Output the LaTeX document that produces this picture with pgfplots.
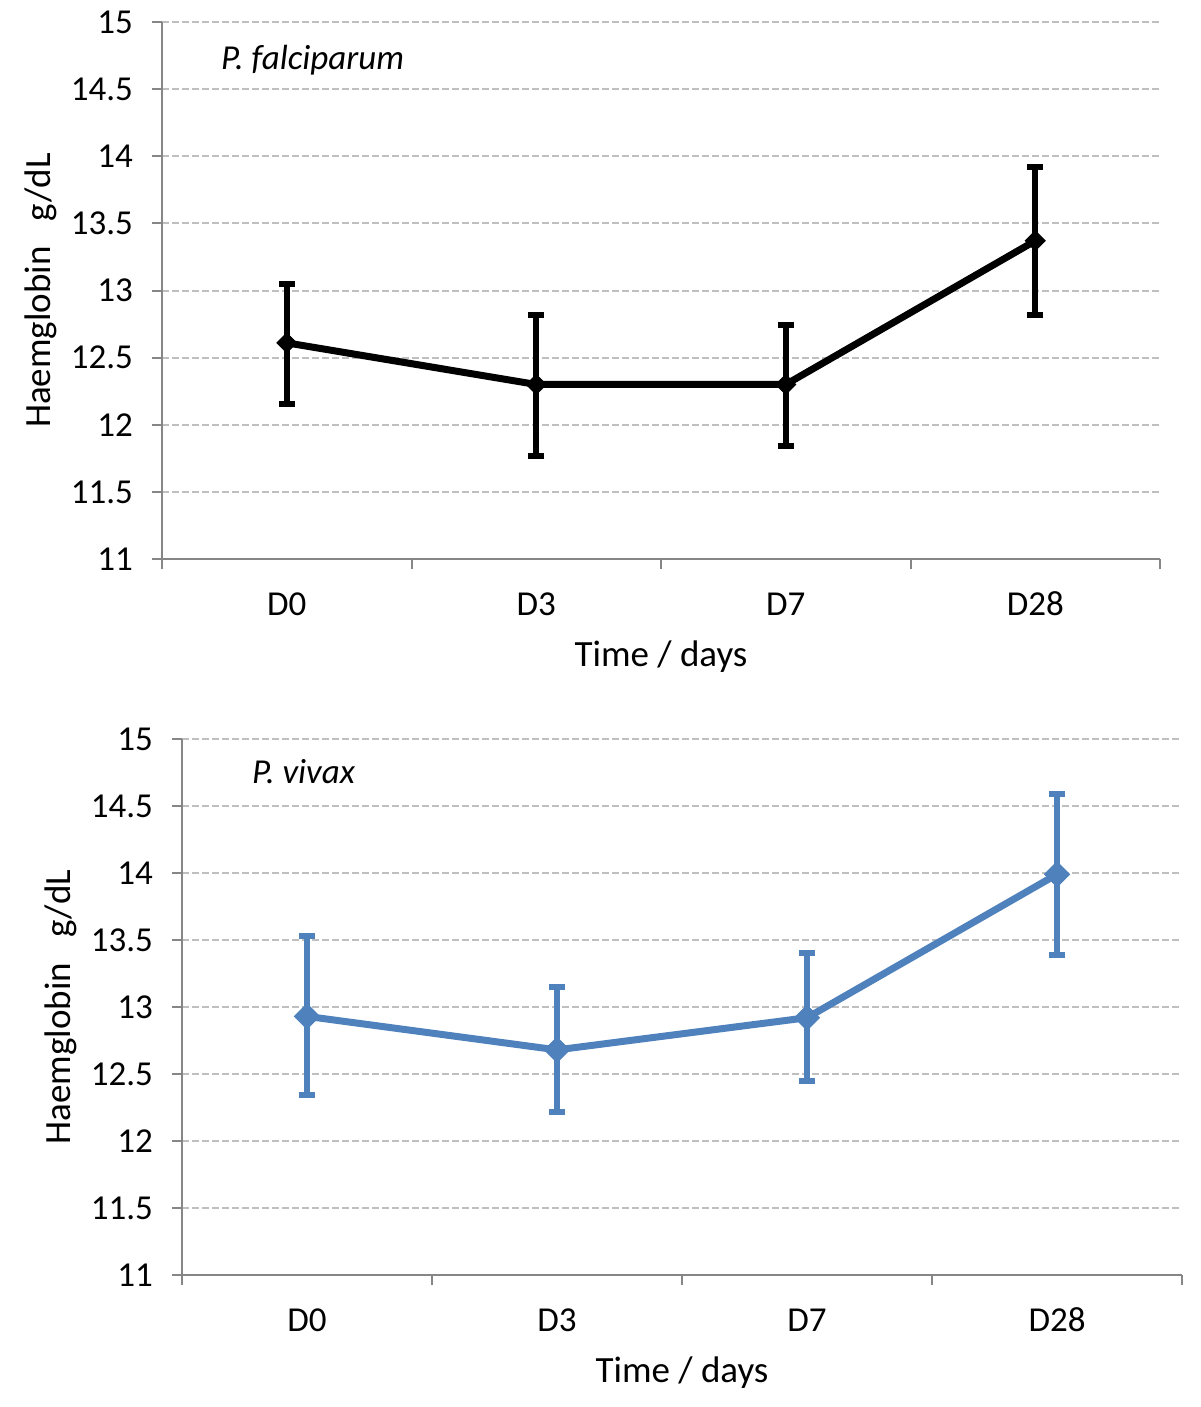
\documentclass[border=0pt]{standalone}
\usepackage{fontspec}
\setmainfont{Carlito}
\usepackage{pgfplots}
\pgfplotsset{compat=1.18}
\definecolor{axgray}{HTML}{868686}
\definecolor{gridgray}{HTML}{BFBFBF}
\definecolor{exblue}{HTML}{4F81BD}
\pgfplotsset{hb/.style={
  scale only axis, width=499pt, height=268.5pt,
  xmin=-0.5, xmax=3.5, ymin=11, ymax=15,
  axis x line*=bottom, axis y line*=left,
  axis line style={axgray, line width=1pt, -},
  xtick={0,1,2,3}, xticklabels={D0,D3,D7,D28},
  minor xtick={-0.5,0.5,1.5,2.5,3.5},
  major x tick style={draw=none},
  minor x tick style={axgray, line width=1pt},
  y tick style={axgray, line width=1pt},
  ytick={11,11.5,...,15},
  tick align=outside, major tick length=5pt, minor tick length=5pt,
  ymajorgrids, major y grid style={gridgray, line width=1pt, dash pattern=on 3.5pt off 1.5pt},
  /pgf/number format/assume math mode=true,
  ticklabel style={font=\fontsize{17.5}{20}\selectfont},
  xticklabel style={anchor=center, yshift=-17.5pt},
  yticklabel style={anchor=east, xshift=-6pt},
  clip=false,
}}
\begin{document}
\begin{tikzpicture}
\useasboundingbox (0,0) rectangle (600pt,-703.5pt);
\begin{axis}[hb, at={(81pt,-279.5pt)}, anchor=south west]
\addplot[black, line width=3.5pt, mark=square*, mark size=3.5pt, mark options={rotate=45, line width=0.5pt},
  error bars/.cd, y dir=both, y explicit,
  error bar style={line width=3pt, black},
  error mark options={rotate=90, mark size=4pt, line width=3pt, black}]
  coordinates {
  (0,12.61) += (0,0.44) -= (0,0.455)
  (1,12.30) += (0,0.52) -= (0,0.53)
  (2,12.30) += (0,0.44) -= (0,0.455)
  (3,13.37) += (0,0.55) -= (0,0.55)
  };
\node[anchor=west, font=\fontsize{17.5}{20}\selectfont\itshape] at ([xshift=26pt,yshift=-19pt]rel axis cs:0,1) {P. falciparum};
\node[rotate=90, font=\fontsize{18.5}{22}\selectfont] at ([xshift=-60.5pt]rel axis cs:0,0.5) {Haemglobin\ \ \ g/dL};
\node[font=\fontsize{18.5}{22}\selectfont] at ([yshift=-49pt]rel axis cs:0.5,0) {Time / days};
\end{axis}
\begin{axis}[hb, width=500pt, height=268pt, at={(91pt,-637.5pt)}, anchor=south west]
\addplot[exblue, line width=3.5pt, mark=square*, mark size=4.4pt, mark options={rotate=45, line width=0.5pt},
  error bars/.cd, y dir=both, y explicit,
  error bar style={line width=3pt, exblue},
  error mark options={rotate=90, mark size=4pt, line width=3pt, exblue}]
  coordinates {
  (0,12.93) += (0,0.60) -= (0,0.59)
  (1,12.68) += (0,0.47) -= (0,0.46)
  (2,12.92) += (0,0.48) -= (0,0.47)
  (3,13.99) += (0,0.60) -= (0,0.60)
  };
\node[anchor=west, font=\fontsize{17.5}{20}\selectfont\itshape] at ([xshift=31.5pt,yshift=-16.5pt]rel axis cs:0,1) {P. vivax};
\node[rotate=90, font=\fontsize{18.5}{22}\selectfont] at ([xshift=-60.5pt]rel axis cs:0,0.5) {Haemglobin\ \ \ g/dL};
\node[font=\fontsize{18.5}{22}\selectfont] at ([yshift=-49pt]rel axis cs:0.5,0) {Time / days};
\end{axis}
\end{tikzpicture}
\end{document}
